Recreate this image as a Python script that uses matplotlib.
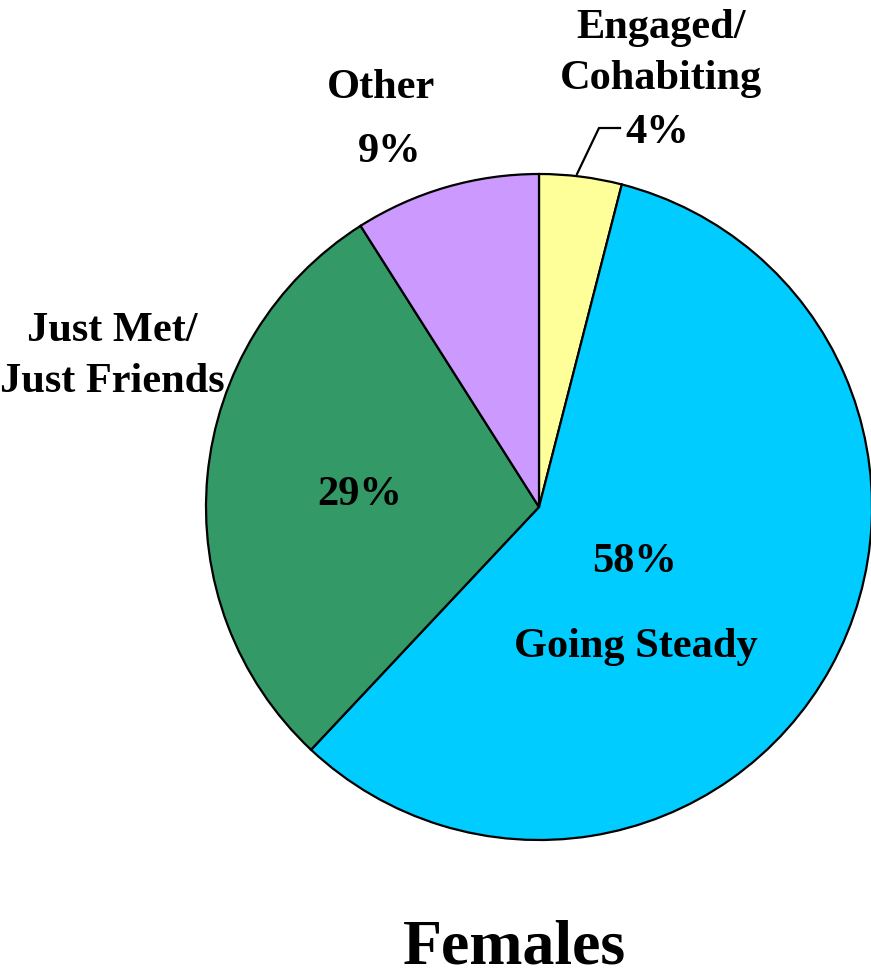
import matplotlib
matplotlib.use("Agg")
import matplotlib.pyplot as plt

# ── data ─────────────────────────────────────────────
categories = ["Engaged/\nCohabiting", "Going Steady", "Just Met/\nJust Friends", "Other"]
shares = [4, 58, 29, 9]
colors = ["#FFFF99", "#00CCFF", "#339966", "#CC99FF"]
title = "Females"

W, H = 871, 977
plt.rcParams["font.family"] = ["Liberation Serif", "DejaVu Serif"]

fig = plt.figure(figsize=(W / 100, H / 100), dpi=100)
ax = fig.add_axes([0, 0, 1, 1])

# pie in pixel coords (y measured from bottom)
cx, cy, r = 539, H - 507, 333
ax.pie(shares, colors=colors, startangle=90, counterclock=False,
       center=(cx, cy), radius=r, frame=True,
       wedgeprops=dict(edgecolor="black", linewidth=1.6))
ax.set_xlim(0, W)
ax.set_ylim(0, H)
ax.axis("off")


def txt(x, y, s, size=30.5, va="center"):
    ax.text(x, H - y, s, ha="center", va=va, fontsize=size,
            fontweight="bold")


# labels (one line at a time to control spacing)
eng1, eng2 = categories[0].split("\n")
txt(661, 28, eng1)
txt(661, 79, eng2)
txt(657, 133, f"{shares[0]}%")
ax.plot([577, 599, 620], [H - 174, H - 128, H - 128], color="black", lw=1.6)

txt(381, 88, categories[3])
txt(390, 152, f"{shares[3]}%")

jm1, jm2 = categories[2].split("\n")
txt(112, 331, jm1)
txt(112, 382, jm2)
txt(360, 495, f"{shares[2]}%")

txt(635, 562, f"{shares[1]}%")
txt(636, 647, categories[1])

txt(514, 964, title, size=46, va="baseline")

fig.savefig("out.png", dpi=100)
